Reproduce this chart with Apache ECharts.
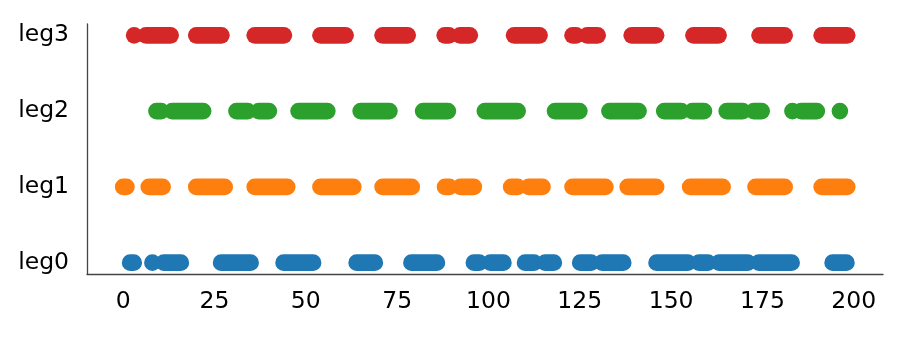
<!DOCTYPE html>
<html>
<head>
<meta charset="utf-8">
<script src="https://cdn.jsdelivr.net/npm/echarts@6/dist/echarts.min.js"></script>
<style>
  html, body { margin: 0; padding: 0; background: #fff; }
  #chart { width: 922px; height: 342px; }
</style>
</head>
<body>
<div id="chart"></div>
<script>
// Row labels (y categories)
const categories = ['leg0', 'leg1', 'leg2', 'leg3'];
// X tick labels
const xTicks = [0, 25, 50, 75, 100, 125, 150, 175, 200];
// Segments per row: [start, end] (centre of the first and last mark)
const leg0 = [[1.9, 2.9], [8.0, 8.0], [11.1, 15.8], [26.8, 34.9], [43.9, 52.0], [63.9, 68.9],
  [78.9, 85.9], [96.0, 97.5], [100.5, 104.1], [110.0, 112.5], [115.5, 117.9], [125.1, 128.1],
  [131.1, 136.9], [146.0, 154.6], [157.6, 160.1], [163.1, 171.0], [174.0, 183.0], [194.2, 198.0]];
const leg1 = [[0.0, 0.9], [7.0, 10.8], [20.0, 27.8], [36.0, 44.9], [54.0, 63.0], [71.0, 79.0],
  [88.1, 89.3], [92.3, 96.0], [106.2, 108.0], [111.0, 114.8], [123.0, 132.0], [138.1, 145.9],
  [155.2, 164.1], [173.1, 181.1], [191.2, 198.2]];
const leg2 = [[9.1, 10.4], [13.4, 21.9], [31.0, 34.1], [37.1, 39.9], [48.0, 55.9], [65.0, 72.9],
  [82.1, 88.9], [99.0, 108.0], [118.2, 124.9], [133.1, 141.1], [148.1, 152.8], [155.8, 159.0],
  [165.2, 169.6], [172.6, 174.8], [183.2, 183.2], [185.6, 189.9], [196.2, 196.2]];
const leg3 = [[3.0, 3.0], [6.2, 13.0], [20.0, 26.9], [36.0, 44.0], [54.0, 60.9], [71.0, 77.9],
  [88.0, 89.2], [92.2, 94.9], [107.0, 114.0], [123.0, 124.0], [127.0, 129.9], [139.2, 145.9],
  [156.1, 163.0], [174.2, 181.1], [191.2, 198.2]];

const rows = [leg0, leg1, leg2, leg3];
const colors = ['#1f77b4', '#ff7f0e', '#2ca02c', '#d62728'];
const FONT = 'DejaVu Sans';
const R = 8.3;

const chart = echarts.init(document.getElementById('chart'), null, { renderer: 'canvas' });

const series = rows.map((segs, i) => ({
  type: 'custom',
  name: categories[i],
  coordinateSystem: 'cartesian2d',
  data: segs.map(s => [s[0], s[1], i]),
  encode: { x: [0, 1], y: 2 },
  renderItem: function (params, api) {
    const y = api.value(2);
    const a = api.coord([api.value(0), y]);
    const b = api.coord([api.value(1), y]);
    return {
      type: 'rect',
      shape: { x: a[0] - R, y: a[1] - R, width: b[0] - a[0] + 2 * R, height: 2 * R, r: R },
      style: { fill: colors[i] }
    };
  },
  silent: true,
  animation: false
}));

chart.setOption({
  animation: false,
  backgroundColor: '#ffffff',
  grid: { left: 87, right: 39, top: 24, bottom: 68, containLabel: false },
  xAxis: {
    type: 'value',
    min: -9.9,
    max: 208,
    axisLine: { show: true, onZero: false, lineStyle: { color: '#444', width: 1.3 } },
    axisTick: { show: false },
    splitLine: { show: false },
    axisLabel: {
      customValues: xTicks,
      margin: 16,
      color: '#000',
      fontFamily: FONT,
      fontSize: 23.5
    }
  },
  yAxis: {
    type: 'value',
    min: -0.15,
    max: 3.15,
    axisLine: { show: true, onZero: false, lineStyle: { color: '#444', width: 1.3 } },
    axisTick: { show: false },
    splitLine: { show: false },
    axisLabel: {
      customValues: [0, 1, 2, 3],
      formatter: v => categories[Math.round(v)],
      margin: 18,
      color: '#000',
      fontFamily: FONT,
      fontSize: 23.5
    }
  },
  series: series
});
</script>
</body>
</html>
